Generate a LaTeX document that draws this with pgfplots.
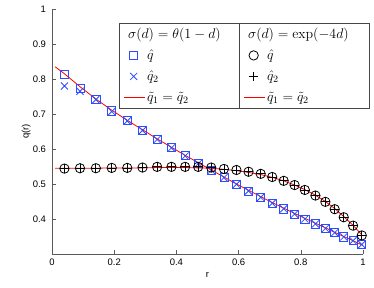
\RequirePackage{fix-cm}
\documentclass[border=0pt]{standalone}
\usepackage[no-math]{fontspec}
\setmainfont{Liberation Sans}
\usepackage{pgfplots}
\pgfplotsset{compat=1.18}
\definecolor{mblue}{RGB}{45,75,255}
\definecolor{axgray}{RGB}{90,90,90}
\definecolor{lgray}{RGB}{70,70,70}
\begin{document}
\begin{tikzpicture}
\useasboundingbox (0,0) rectangle (374bp,288bp);
\pgfplotsset{
  common/.style={
    at={(52bp,34bp)}, anchor=south west, scale only axis,
    width=311bp, height=245bp,
    xmin=0, xmax=1, ymin=0.3, ymax=1, clip=false,
    legend cell align=left,
    legend style={
      draw=lgray, line width=0.9pt, fill=white, anchor=north west,
      inner xsep=3.5bp, inner ysep=2.5bp, row sep=3.5bp, column sep=0bp,
      font=\fontsize{14}{16}\selectfont,
      nodes={inner xsep=2bp, inner ysep=2bp, text height=10.5bp, text depth=3bp, anchor=west},
    },
  },
  lineimg/.style={legend image code/.code={%
    \begin{pgfscope}\pgfsetcolor{red}\pgfsetstrokecolor{red}\pgfsetlinewidth{0.8pt}%
    \pgfpathmoveto{\pgfpoint{0bp}{0bp}}\pgfpathlineto{\pgfpoint{21bp}{0bp}}\pgfusepath{stroke}%
    \end{pgfscope}}},
  markimg/.style n args={3}{legend image code/.code={%
    \begin{pgfscope}\pgfsetcolor{#1}\pgfsetstrokecolor{#1}\pgfsetlinewidth{0.8pt}%
    \pgftransformshift{\pgfpoint{10bp}{0bp}}\pgfsetplotmarksize{#3}\pgfuseplotmark{#2}%
    \end{pgfscope}}},
}
\begin{axis}[common,
  axis x line*=bottom, axis y line*=left,
  axis line style={draw=axgray, line width=0.6pt, -},
  tick style={draw=axgray, line width=0.6pt},
  tick align=inside, major tick length=4bp,
  xtick={0,0.2,0.4,0.6,0.8,1}, ytick={0.4,0.5,0.6,0.7,0.8,0.9,1},
  /pgf/number format/assume math mode=true,
  /pgf/number format/fixed, /pgf/number format/precision=1,
  tick label style={font=\fontsize{9.5}{11}\selectfont},
  yticklabel style={xshift=-2.5bp},
  xticklabel style={yshift=-1.5bp},
  xlabel={r}, ylabel={q(r)},
  label style={font=\fontsize{9.5}{11}\selectfont},
  xlabel style={at={(axis description cs:0.5,-0.0951)}, anchor=base},
  ylabel style={at={(axis description cs:-0.0749,0.5)}, anchor=base},
  legend style={at={(rel axis cs:0.2164,0.944)}},
]
\addlegendimage{empty legend}
\addlegendentry{\hspace*{-19bp}\makebox[106bp][l]{$\sigma(d) = \theta(1-d)$}}
\addlegendimage{markimg={mblue}{square}{4.1pt}}
\addlegendentry{$\hat{q}$}
\addlegendimage{markimg={mblue}{x}{5pt}}
\addlegendentry{$\hat{q}_2$}
\addlegendimage{lineimg}
\addlegendentry{$\tilde{q}_1 = \tilde{q}_2$}
\addplot[forget plot, only marks, mark=square, mark size=4.1pt, color=mblue, line width=0.8pt] coordinates {
(0.040,0.813) (0.090,0.773) (0.141,0.741) (0.192,0.709) (0.242,0.681)
(0.291,0.654) (0.338,0.628) (0.384,0.604) (0.428,0.581) (0.470,0.559)
(0.512,0.539) (0.553,0.518) (0.593,0.499) (0.632,0.480) (0.671,0.462)
(0.708,0.445) (0.745,0.429) (0.780,0.414) (0.813,0.400) (0.847,0.386)
(0.879,0.373) (0.909,0.361) (0.938,0.349) (0.968,0.338) (0.996,0.327)};
\addplot[forget plot, only marks, mark=x, mark size=5pt, color=mblue, line width=0.8pt] coordinates {
(0.040,0.780) (0.090,0.765) (0.141,0.741) (0.192,0.707) (0.242,0.680)
(0.291,0.653) (0.338,0.627) (0.384,0.603) (0.428,0.580) (0.470,0.558)
(0.512,0.539) (0.553,0.518) (0.593,0.499) (0.632,0.480) (0.671,0.462)
(0.708,0.445) (0.745,0.429) (0.780,0.414) (0.813,0.400) (0.847,0.386)
(0.879,0.373) (0.909,0.361) (0.938,0.349) (0.968,0.338) (0.996,0.327)};
\addplot[forget plot, color=red, line width=0.8pt, no marks] coordinates {
(0.010,0.835) (0.040,0.815) (0.090,0.778) (0.141,0.743) (0.192,0.711)
(0.242,0.682) (0.291,0.655) (0.338,0.629) (0.384,0.605) (0.428,0.582)
(0.470,0.561) (0.512,0.540) (0.553,0.520) (0.593,0.500) (0.632,0.482)
(0.671,0.464) (0.708,0.447) (0.745,0.431) (0.780,0.416) (0.813,0.402)
(0.847,0.388) (0.879,0.375) (0.909,0.362) (0.938,0.350) (0.968,0.338)
(0.996,0.326)};
\end{axis}
\begin{axis}[common, hide axis,
  legend style={at={(rel axis cs:0.6023,0.944)}},
]
\addlegendimage{empty legend}
\addlegendentry{\hspace*{-19bp}\makebox[116bp][l]{$\sigma(d) = \exp(-4d)$}}
\addlegendimage{markimg={black}{o}{4.7pt}}
\addlegendentry{$\hat{q}$}
\addlegendimage{markimg={black}{+}{4.7pt}}
\addlegendentry{$\hat{q}_2$}
\addlegendimage{lineimg}
\addlegendentry{$\tilde{q}_1 = \tilde{q}_2$}
\addplot[forget plot, only marks, mark=o, mark size=4.7pt, color=black, line width=0.8pt] coordinates {
(0.040,0.544) (0.090,0.545) (0.141,0.545) (0.192,0.546) (0.242,0.546)
(0.291,0.547) (0.338,0.549) (0.384,0.549) (0.428,0.549) (0.470,0.549)
(0.512,0.547) (0.553,0.543) (0.593,0.540) (0.632,0.535) (0.671,0.529)
(0.708,0.520) (0.745,0.509) (0.780,0.497) (0.813,0.483) (0.847,0.467)
(0.879,0.449) (0.909,0.428) (0.938,0.405) (0.968,0.381) (0.996,0.353)};
\addplot[forget plot, only marks, mark=+, mark size=4.7pt, color=black, line width=0.8pt] coordinates {
(0.040,0.544) (0.090,0.545) (0.141,0.545) (0.192,0.546) (0.242,0.546)
(0.291,0.547) (0.338,0.549) (0.384,0.549) (0.428,0.549) (0.470,0.549)
(0.512,0.547) (0.553,0.543) (0.593,0.540) (0.632,0.535) (0.671,0.529)
(0.708,0.520) (0.745,0.509) (0.780,0.497) (0.813,0.483) (0.847,0.467)
(0.879,0.449) (0.909,0.428) (0.938,0.405) (0.968,0.381) (0.996,0.353)};
\addplot[forget plot, color=red, line width=0.8pt, no marks] coordinates {
(0.010,0.545) (0.040,0.545) (0.090,0.545) (0.141,0.545) (0.192,0.546)
(0.242,0.546) (0.291,0.546) (0.338,0.547) (0.384,0.547) (0.428,0.547)
(0.470,0.546) (0.512,0.545) (0.553,0.542) (0.593,0.538) (0.632,0.533)
(0.671,0.527) (0.708,0.519) (0.745,0.509) (0.780,0.497) (0.813,0.484)
(0.847,0.468) (0.879,0.450) (0.909,0.430) (0.938,0.407) (0.968,0.382)
(0.996,0.355)};
\end{axis}
\end{tikzpicture}
\end{document}
